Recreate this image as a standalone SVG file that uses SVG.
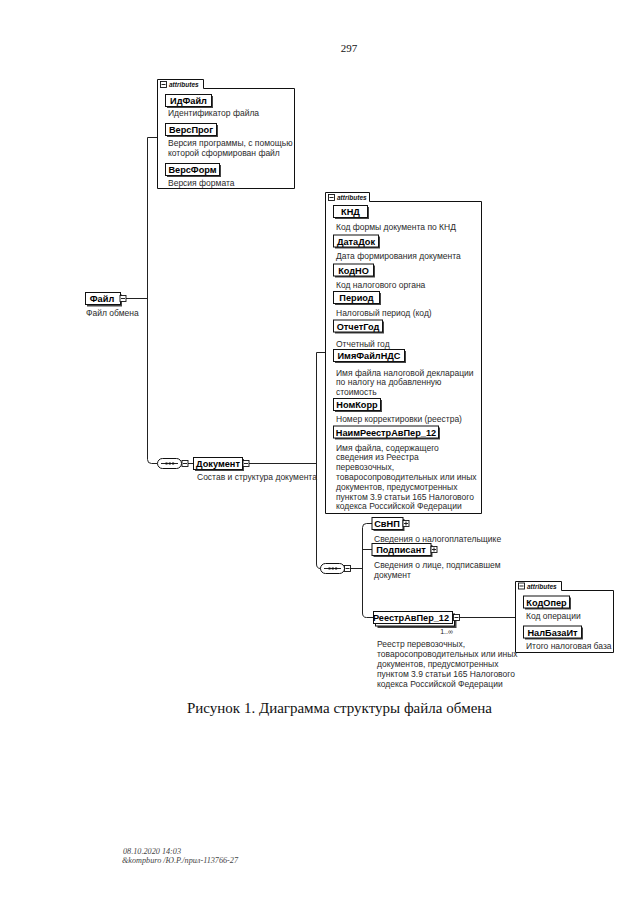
<svg xmlns="http://www.w3.org/2000/svg" width="640" height="905" viewBox="0 0 640 905">
<defs>
<style>
.bg{fill:#fff}
.frame{fill:#fff;stroke:#111;stroke-width:1}
.b{fill:#fff;stroke:#111;stroke-width:1}
.sh{fill:#444}
.ic{fill:#fff;stroke:#111;stroke-width:0.9}
.c{fill:none;stroke:#222;stroke-width:1}
.n{font-family:"Liberation Sans",Arial,sans-serif;font-weight:bold;font-size:9.2px;fill:#000;text-anchor:middle}
.d{font-family:"Liberation Sans",Arial,sans-serif;font-size:8.5px;fill:#2a2a2a}
.t{font-family:"Liberation Sans",Arial,sans-serif;font-style:italic;font-weight:bold;font-size:6.5px;fill:#111}
.m{font-family:"Liberation Sans",Arial,sans-serif;font-size:7px;fill:#222;text-anchor:end}
.pg{font-family:"Liberation Serif","Times New Roman",serif;font-size:11px;fill:#111;text-anchor:middle}
.cap{font-family:"Liberation Serif","Times New Roman",serif;font-size:15px;fill:#111}
.ft{font-family:"Liberation Serif","Times New Roman",serif;font-style:italic;font-size:8.2px;fill:#444}
</style>
</defs>
<rect class="bg" x="0" y="0" width="640" height="905"/>
<text class="pg" x="349" y="52">297</text>

<g id="connectors">
<path class="c" d="M126,298.5 H147.5"/>
<path class="c" d="M147.5,137.5 H157.5"/>
<path class="c" d="M147.5,137.5 V459.5 Q147.5,463.5 151.5,463.5 H157.5"/>
<path class="c" d="M188,463.5 H193.5"/>
<path class="c" d="M249,463.5 H316.5"/>
<path class="c" d="M316.5,352.5 H325.5"/>
<path class="c" d="M316.5,352.5 V564 Q316.5,568.5 320.5,568.5 H321"/>
<path class="c" d="M350,568.5 H362.5"/>
<path class="c" d="M372,523.5 H366.5 Q362.5,523.5 362.5,527.5 V613 Q362.5,617.5 366.5,617.5 H373"/>
<path class="c" d="M362.5,549.5 H372"/>
<path class="c" d="M460,617.5 H515.5"/>
</g>

<g id="attrs-file">
<path class="frame" d="M157.5,79.5 H203.5 V88.5 H294.5 V188.5 H157.5 Z"/>
<rect class="ic" x="160.5" y="81.5" width="6" height="6"/>
<path class="c" d="M161.5,84.5 H165.5"/>
<text class="t" x="169" y="87">attributes</text>
<rect class="sh" x="167" y="96" width="46" height="12"/>
<rect class="b" x="165.5" y="94.5" width="46" height="12"/>
<text class="n" x="188.5" y="104">ИдФайл</text>
<text class="d" x="168" y="116">Идентификатор файла</text>
<rect class="sh" x="167" y="125" width="51" height="12"/>
<rect class="b" x="165.5" y="123.5" width="51" height="12"/>
<text class="n" x="191" y="133">ВерсПрог</text>
<text class="d" x="168" y="146">Версия программы, с помощью</text>
<text class="d" x="168" y="156">которой сформирован файл</text>
<rect class="sh" x="167" y="165" width="54" height="12"/>
<rect class="b" x="165.5" y="163.5" width="54" height="12"/>
<text class="n" x="192.5" y="173">ВерсФорм</text>
<text class="d" x="168" y="185.5">Версия формата</text>
</g>

<g id="node-fajl">
<rect class="sh" x="87" y="294.5" width="35" height="12"/>
<rect class="b" x="85.5" y="292.5" width="35" height="12"/>
<text class="n" x="102" y="302">Файл</text>
<rect class="ic" x="120" y="295.5" width="6" height="6"/>
<path class="c" d="M121,298.5 H125"/>
<text class="d" x="86" y="316">Файл обмена</text>
</g>

<g id="seq-1">
<rect class="b" x="157.5" y="458.5" width="24" height="10" rx="5"/>
<path class="c" d="M161,463.5 H178"/>
<rect x="165.5" y="462.5" width="2" height="2" fill="#111"/>
<rect x="168.8" y="462.5" width="2" height="2" fill="#111"/>
<rect x="172.1" y="462.5" width="2" height="2" fill="#111"/>
<rect class="ic" x="182" y="460.5" width="6" height="6"/>
<path class="c" d="M183,463.5 H187"/>
</g>

<g id="node-dokument">
<rect class="sh" x="195" y="459" width="49" height="12"/>
<rect class="b" x="193.5" y="457.5" width="49" height="12"/>
<text class="n" x="218" y="467">Документ</text>
<rect class="ic" x="243" y="460.5" width="6" height="6"/>
<path class="c" d="M244,463.5 H248"/>
<text class="d" x="197" y="480">Состав и структура документа</text>
</g>

<g id="attrs-dokument">
<path class="frame" d="M325.5,192.5 H369.5 V201.5 H481.5 V513.5 H325.5 Z"/>
<rect class="ic" x="328.5" y="194.5" width="6" height="6"/>
<path class="c" d="M329.5,197.5 H333.5"/>
<text class="t" x="337" y="200">attributes</text>

<rect class="sh" x="335" y="207" width="34" height="12"/>
<rect class="b" x="333.5" y="205.5" width="34" height="12"/>
<text class="n" x="350.5" y="215">КНД</text>
<text class="d" x="336" y="230">Код формы документа по КНД</text>

<rect class="sh" x="335" y="236.5" width="45" height="12"/>
<rect class="b" x="333.5" y="235" width="45" height="12"/>
<text class="n" x="356" y="244.5">ДатаДок</text>
<text class="d" x="336" y="259">Дата формирования документа</text>

<rect class="sh" x="335" y="265.5" width="40" height="12"/>
<rect class="b" x="333.5" y="264" width="40" height="12"/>
<text class="n" x="353.5" y="273.5">КодНО</text>
<text class="d" x="336" y="287.5">Код налогового органа</text>

<rect class="sh" x="335" y="293" width="46" height="12"/>
<rect class="b" x="333.5" y="291.5" width="46" height="12"/>
<text class="n" x="356.5" y="301">Период</text>
<text class="d" x="336" y="316">Налоговый период (код)</text>

<rect class="sh" x="335" y="321.5" width="49" height="12"/>
<rect class="b" x="333.5" y="320" width="49" height="12"/>
<text class="n" x="358" y="329.5">ОтчетГод</text>
<text class="d" x="336" y="346.5">Отчетный год</text>

<rect class="sh" x="335" y="351" width="71" height="12"/>
<rect class="b" x="333.5" y="349.5" width="71" height="12"/>
<text class="n" x="369" y="359">ИмяФайлНДС</text>
<text class="d" x="336" y="375.5">Имя файла налоговой декларации</text>
<text class="d" x="336" y="385">по налогу на добавленную</text>
<text class="d" x="336" y="394.5">стоимость</text>

<rect class="sh" x="335" y="400" width="47" height="12"/>
<rect class="b" x="333.5" y="398.5" width="47" height="12"/>
<text class="n" x="357" y="408">НомКорр</text>
<text class="d" x="336" y="421.5">Номер корректировки (реестра)</text>

<rect class="sh" x="335" y="427.5" width="105" height="12"/>
<rect class="b" x="333.5" y="426" width="105" height="12"/>
<text class="n" x="386" y="435.5">НаимРеестрАвПер_12</text>
<text class="d" x="336" y="450.5">Имя файла, содержащего</text>
<text class="d" x="336" y="460.3">сведения из Реестра</text>
<text class="d" x="336" y="470.1">перевозочных,</text>
<text class="d" x="336" y="479.9">товаросопроводительных или иных</text>
<text class="d" x="336" y="489.7">документов, предусмотренных</text>
<text class="d" x="336" y="499.5">пунктом 3.9 статьи 165 Налогового</text>
<text class="d" x="336" y="509.3">кодекса Российской Федерации</text>
</g>

<g id="seq-2">
<rect class="b" x="320.5" y="563.5" width="24" height="10" rx="5"/>
<path class="c" d="M324,568.5 H341"/>
<rect x="328.5" y="567.5" width="2" height="2" fill="#111"/>
<rect x="331.8" y="567.5" width="2" height="2" fill="#111"/>
<rect x="335.1" y="567.5" width="2" height="2" fill="#111"/>
<rect class="ic" x="344.5" y="565.5" width="6" height="6"/>
<path class="c" d="M345.5,568.5 H349.5"/>
</g>

<g id="node-svnp">
<rect class="sh" x="373.5" y="519" width="31" height="12"/>
<rect class="b" x="372" y="517.5" width="31" height="12"/>
<text class="n" x="387" y="527">СвНП</text>
<rect class="ic" x="403" y="520.5" width="6" height="6"/>
<path class="c" d="M404,523.5 H408 M406,521.5 V525.5"/>
<text class="d" x="374" y="541.5">Сведения о налогоплательщике</text>
</g>

<g id="node-podpisant">
<rect class="sh" x="373.5" y="545" width="59" height="12"/>
<rect class="b" x="372" y="543.5" width="59" height="12"/>
<text class="n" x="401" y="553">Подписант</text>
<rect class="ic" x="431" y="546.5" width="6" height="6"/>
<path class="c" d="M432,549.5 H436 M434,547.5 V551.5"/>
<text class="d" x="374" y="568">Сведения о лице, подписавшем</text>
<text class="d" x="374" y="578">документ</text>
</g>

<g id="node-reestr">
<rect class="sh" x="377.5" y="616" width="79" height="12"/>
<rect class="b" x="375.5" y="614" width="79" height="12"/>
<rect class="b" x="373.5" y="611.5" width="79" height="12"/>
<text class="n" x="411" y="621">РеестрАвПер_12</text>
<rect class="ic" x="453.5" y="614.5" width="6" height="6"/>
<path class="c" d="M454.5,617.5 H458.5"/>
<text class="m" x="453" y="634">1..∞</text>
<text class="d" x="377" y="646.5">Реестр перевозочных,</text>
<text class="d" x="377" y="656.5">товаросопроводительных или иных</text>
<text class="d" x="377" y="666.5">документов, предусмотренных</text>
<text class="d" x="377" y="676.5">пунктом 3.9 статьи 165 Налогового</text>
<text class="d" x="377" y="686.5">кодекса Российской Федерации</text>
</g>

<g id="attrs-reestr">
<path class="frame" d="M515.5,581.5 H561.5 V590.5 H613.5 V652.5 H515.5 Z"/>
<rect class="ic" x="518.5" y="583" width="6" height="6"/>
<path class="c" d="M519.5,586 H523.5"/>
<text class="t" x="527" y="588.5">attributes</text>
<rect class="sh" x="525" y="597.5" width="46" height="12"/>
<rect class="b" x="523.5" y="596" width="46" height="12"/>
<text class="n" x="546.5" y="605.5">КодОпер</text>
<text class="d" x="526" y="619">Код операции</text>
<rect class="sh" x="525" y="627.5" width="58" height="12"/>
<rect class="b" x="523.5" y="626" width="58" height="12"/>
<text class="n" x="552.5" y="635.5">НалБазаИт</text>
<text class="d" x="526" y="648.5">Итого налоговая база</text>
</g>

<text class="cap" x="187" y="713">Рисунок 1. Диаграмма структуры файла обмена</text>
<text class="ft" x="123" y="854">08.10.2020 14:03</text>
<text class="ft" x="122" y="863">&amp;kompburo /Ю.Р./прил-113766-27</text>
</svg>
